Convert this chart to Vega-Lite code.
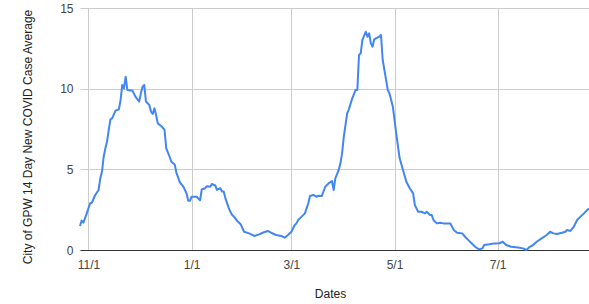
{
  "$schema": "https://vega.github.io/schema/vega-lite/v6.json",
  "width": 509,
  "height": 242,
  "autosize": {"type": "none"},
  "padding": {"left": 80, "top": 8, "right": 0, "bottom": 54},
  "background": "white",
  "config": {
    "view": {"stroke": null},
    "font": "Liberation Sans"
  },
  "data": {
    "values": [
      {"date": "2020-10-27", "avg": 1.49},
      {"date": "2020-10-28", "avg": 1.82},
      {"date": "2020-10-29", "avg": 1.69},
      {"date": "2020-10-31", "avg": 2.27},
      {"date": "2020-11-02", "avg": 2.9},
      {"date": "2020-11-03", "avg": 2.93},
      {"date": "2020-11-05", "avg": 3.41},
      {"date": "2020-11-07", "avg": 3.72},
      {"date": "2020-11-08", "avg": 4.44},
      {"date": "2020-11-09", "avg": 4.85},
      {"date": "2020-11-10", "avg": 5.78},
      {"date": "2020-11-11", "avg": 6.3},
      {"date": "2020-11-12", "avg": 6.72},
      {"date": "2020-11-13", "avg": 7.44},
      {"date": "2020-11-14", "avg": 8.1},
      {"date": "2020-11-15", "avg": 8.16},
      {"date": "2020-11-17", "avg": 8.64},
      {"date": "2020-11-18", "avg": 8.68},
      {"date": "2020-11-19", "avg": 8.72},
      {"date": "2020-11-20", "avg": 9.3},
      {"date": "2020-11-21", "avg": 10.23},
      {"date": "2020-11-22", "avg": 10.02},
      {"date": "2020-11-23", "avg": 10.74},
      {"date": "2020-11-24", "avg": 9.92},
      {"date": "2020-11-26", "avg": 9.88},
      {"date": "2020-11-27", "avg": 9.88},
      {"date": "2020-11-29", "avg": 9.47},
      {"date": "2020-12-01", "avg": 9.2},
      {"date": "2020-12-02", "avg": 9.71},
      {"date": "2020-12-03", "avg": 10.12},
      {"date": "2020-12-04", "avg": 10.23},
      {"date": "2020-12-05", "avg": 9.2},
      {"date": "2020-12-07", "avg": 8.99},
      {"date": "2020-12-08", "avg": 8.57},
      {"date": "2020-12-09", "avg": 8.43},
      {"date": "2020-12-10", "avg": 8.78},
      {"date": "2020-12-11", "avg": 8.37},
      {"date": "2020-12-12", "avg": 7.85},
      {"date": "2020-12-14", "avg": 7.69},
      {"date": "2020-12-16", "avg": 7.44},
      {"date": "2020-12-17", "avg": 6.3},
      {"date": "2020-12-19", "avg": 5.78},
      {"date": "2020-12-20", "avg": 5.47},
      {"date": "2020-12-22", "avg": 5.3},
      {"date": "2020-12-23", "avg": 4.8},
      {"date": "2020-12-25", "avg": 4.2},
      {"date": "2020-12-27", "avg": 3.95},
      {"date": "2020-12-29", "avg": 3.51},
      {"date": "2020-12-30", "avg": 3.05},
      {"date": "2020-12-31", "avg": 3.05},
      {"date": "2021-01-01", "avg": 3.3},
      {"date": "2021-01-04", "avg": 3.3},
      {"date": "2021-01-06", "avg": 3.08},
      {"date": "2021-01-07", "avg": 3.75},
      {"date": "2021-01-09", "avg": 3.83},
      {"date": "2021-01-10", "avg": 3.95},
      {"date": "2021-01-12", "avg": 3.92},
      {"date": "2021-01-13", "avg": 4.09},
      {"date": "2021-01-15", "avg": 4.0},
      {"date": "2021-01-16", "avg": 3.72},
      {"date": "2021-01-18", "avg": 3.83},
      {"date": "2021-01-19", "avg": 3.62},
      {"date": "2021-01-20", "avg": 3.62},
      {"date": "2021-01-21", "avg": 3.2},
      {"date": "2021-01-23", "avg": 2.6},
      {"date": "2021-01-24", "avg": 2.35},
      {"date": "2021-01-25", "avg": 2.17},
      {"date": "2021-01-26", "avg": 2.07},
      {"date": "2021-01-28", "avg": 1.8},
      {"date": "2021-01-30", "avg": 1.6},
      {"date": "2021-02-01", "avg": 1.13},
      {"date": "2021-02-04", "avg": 1.03},
      {"date": "2021-02-07", "avg": 0.87},
      {"date": "2021-02-10", "avg": 0.97},
      {"date": "2021-02-12", "avg": 1.07},
      {"date": "2021-02-15", "avg": 1.18},
      {"date": "2021-02-17", "avg": 1.07},
      {"date": "2021-02-20", "avg": 0.93},
      {"date": "2021-02-23", "avg": 0.87},
      {"date": "2021-02-25", "avg": 0.76},
      {"date": "2021-02-27", "avg": 0.93},
      {"date": "2021-03-01", "avg": 1.13},
      {"date": "2021-03-03", "avg": 1.55},
      {"date": "2021-03-04", "avg": 1.65},
      {"date": "2021-03-05", "avg": 1.86},
      {"date": "2021-03-06", "avg": 1.96},
      {"date": "2021-03-09", "avg": 2.27},
      {"date": "2021-03-11", "avg": 2.9},
      {"date": "2021-03-12", "avg": 3.35},
      {"date": "2021-03-14", "avg": 3.41},
      {"date": "2021-03-16", "avg": 3.3},
      {"date": "2021-03-17", "avg": 3.37},
      {"date": "2021-03-19", "avg": 3.35},
      {"date": "2021-03-21", "avg": 3.92},
      {"date": "2021-03-23", "avg": 4.13},
      {"date": "2021-03-25", "avg": 4.28},
      {"date": "2021-03-26", "avg": 3.72},
      {"date": "2021-03-27", "avg": 4.44},
      {"date": "2021-03-29", "avg": 4.96},
      {"date": "2021-03-30", "avg": 5.37},
      {"date": "2021-03-31", "avg": 6.0},
      {"date": "2021-04-01", "avg": 7.02},
      {"date": "2021-04-03", "avg": 8.47},
      {"date": "2021-04-04", "avg": 8.72},
      {"date": "2021-04-06", "avg": 9.4},
      {"date": "2021-04-08", "avg": 9.92},
      {"date": "2021-04-09", "avg": 9.92},
      {"date": "2021-04-10", "avg": 12.09},
      {"date": "2021-04-11", "avg": 12.19},
      {"date": "2021-04-12", "avg": 13.02},
      {"date": "2021-04-14", "avg": 13.53},
      {"date": "2021-04-15", "avg": 13.22},
      {"date": "2021-04-16", "avg": 13.43},
      {"date": "2021-04-17", "avg": 12.81},
      {"date": "2021-04-18", "avg": 12.6},
      {"date": "2021-04-19", "avg": 13.06},
      {"date": "2021-04-20", "avg": 13.12},
      {"date": "2021-04-22", "avg": 13.22},
      {"date": "2021-04-23", "avg": 13.33},
      {"date": "2021-04-24", "avg": 11.78},
      {"date": "2021-04-26", "avg": 10.54},
      {"date": "2021-04-27", "avg": 9.92},
      {"date": "2021-04-28", "avg": 9.71},
      {"date": "2021-04-30", "avg": 8.88},
      {"date": "2021-05-01", "avg": 8.06},
      {"date": "2021-05-02", "avg": 7.23},
      {"date": "2021-05-04", "avg": 5.7},
      {"date": "2021-05-06", "avg": 4.96},
      {"date": "2021-05-08", "avg": 4.23},
      {"date": "2021-05-10", "avg": 3.83},
      {"date": "2021-05-12", "avg": 3.51},
      {"date": "2021-05-13", "avg": 2.79},
      {"date": "2021-05-15", "avg": 2.37},
      {"date": "2021-05-17", "avg": 2.37},
      {"date": "2021-05-19", "avg": 2.27},
      {"date": "2021-05-20", "avg": 2.37},
      {"date": "2021-05-22", "avg": 2.17},
      {"date": "2021-05-23", "avg": 2.17},
      {"date": "2021-05-24", "avg": 1.86},
      {"date": "2021-05-26", "avg": 1.65},
      {"date": "2021-05-28", "avg": 1.69},
      {"date": "2021-05-30", "avg": 1.65},
      {"date": "2021-06-02", "avg": 1.65},
      {"date": "2021-06-03", "avg": 1.65},
      {"date": "2021-06-05", "avg": 1.24},
      {"date": "2021-06-07", "avg": 1.07},
      {"date": "2021-06-10", "avg": 1.03},
      {"date": "2021-06-12", "avg": 0.79},
      {"date": "2021-06-14", "avg": 0.58},
      {"date": "2021-06-16", "avg": 0.37},
      {"date": "2021-06-18", "avg": 0.17},
      {"date": "2021-06-20", "avg": 0.04},
      {"date": "2021-06-22", "avg": 0.1},
      {"date": "2021-06-23", "avg": 0.31},
      {"date": "2021-06-26", "avg": 0.35},
      {"date": "2021-06-29", "avg": 0.41},
      {"date": "2021-07-02", "avg": 0.42},
      {"date": "2021-07-04", "avg": 0.51},
      {"date": "2021-07-06", "avg": 0.31},
      {"date": "2021-07-09", "avg": 0.2},
      {"date": "2021-07-13", "avg": 0.15},
      {"date": "2021-07-16", "avg": 0.1},
      {"date": "2021-07-18", "avg": 0.0},
      {"date": "2021-07-20", "avg": 0.2},
      {"date": "2021-07-22", "avg": 0.31},
      {"date": "2021-07-24", "avg": 0.51},
      {"date": "2021-07-27", "avg": 0.72},
      {"date": "2021-07-30", "avg": 0.93},
      {"date": "2021-08-01", "avg": 1.13},
      {"date": "2021-08-03", "avg": 1.03},
      {"date": "2021-08-05", "avg": 0.99},
      {"date": "2021-08-08", "avg": 1.07},
      {"date": "2021-08-10", "avg": 1.13},
      {"date": "2021-08-11", "avg": 1.24},
      {"date": "2021-08-13", "avg": 1.18},
      {"date": "2021-08-15", "avg": 1.44},
      {"date": "2021-08-17", "avg": 1.86},
      {"date": "2021-08-19", "avg": 2.07},
      {"date": "2021-08-21", "avg": 2.27},
      {"date": "2021-08-23", "avg": 2.48},
      {"date": "2021-08-24", "avg": 2.58}
    ]
  },
  "mark": {"type": "line", "color": "#4285f4", "strokeWidth": 2, "strokeJoin": "round"},
  "encoding": {
    "x": {
      "field": "date",
      "type": "temporal",
      "scale": {"type": "utc", "nice": false},
      "axis": {
        "title": "Dates",
        "values": [
          {"year": 2020, "month": 11, "date": 1, "utc": true},
          {"year": 2021, "month": 1, "date": 1, "utc": true},
          {"year": 2021, "month": 3, "date": 1, "utc": true},
          {"year": 2021, "month": 5, "date": 1, "utc": true},
          {"year": 2021, "month": 7, "date": 1, "utc": true}
        ],
        "labelExpr": "utcFormat(datum.value, '%-m/%-d')",
        "grid": true,
        "gridColor": "#cccccc",
        "gridWidth": 1,
        "ticks": false,
        "tickSize": 0,
        "domain": true,
        "domainColor": "#333333",
        "domainWidth": 1,
        "labelFont": "Liberation Sans",
        "labelFontSize": 12,
        "labelColor": "#444444",
        "labelPadding": 9,
        "labelBaseline": "top",
        "labelFlush": false,
        "labelOverlap": false,
        "titleFont": "Liberation Sans",
        "titleFontSize": 12,
        "titleFontWeight": "normal",
        "titleColor": "#222222",
        "titleX": 250,
        "titleY": 43,
        "titleBaseline": "middle",
        "titleAlign": "center"
      }
    },
    "y": {
      "field": "avg",
      "type": "quantitative",
      "scale": {"domain": [0, 15], "nice": false, "zero": true},
      "axis": {
        "title": "City of GPW 14 Day New COVID Case Average",
        "values": [0, 5, 10, 15],
        "grid": true,
        "gridColor": "#cccccc",
        "gridWidth": 1,
        "domain": false,
        "ticks": false,
        "tickSize": 0,
        "labelFont": "Liberation Sans",
        "labelFontSize": 12,
        "labelColor": "#444444",
        "labelPadding": 7,
        "titleFont": "Liberation Sans",
        "titleFontSize": 12,
        "titleFontWeight": "normal",
        "titleColor": "#222222",
        "titleAngle": -90,
        "titleX": -52.5,
        "titleY": 128.5,
        "titleBaseline": "middle",
        "titleAlign": "center"
      }
    }
  }
}
